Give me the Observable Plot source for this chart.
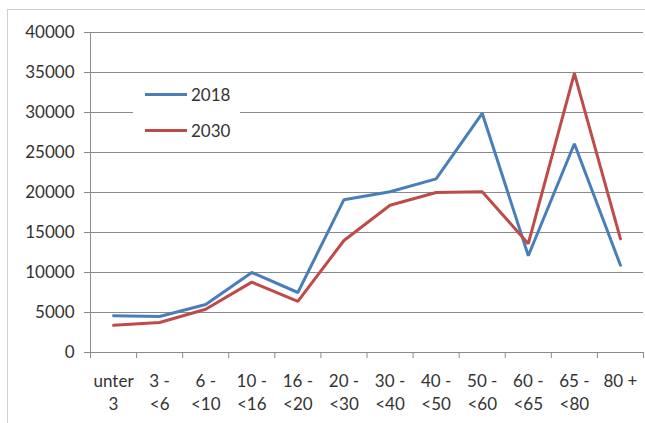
<!DOCTYPE html>
<html>
<head>
<meta charset="utf-8">
<script src="https://cdn.jsdelivr.net/npm/d3@7"></script>
<script src="https://cdn.jsdelivr.net/npm/@observablehq/plot@0.6"></script>
<style>
  html, body { margin: 0; padding: 0; background: #fff; }
  #wrap { position: relative; width: 645px; height: 423px; overflow: hidden; font-family: Lato, "Open Sans", sans-serif; }
  #frame { position: absolute; left: 7px; top: 9px; width: 700px; height: 500px; border: 1px solid #d0d0d0; }
  #legend { position: absolute; left: 133px; top: 80px; width: 107px; height: 66px; background: #fff; }
  .item { position: absolute; left: 12px; display: flex; align-items: center; font-size: 17px; color: #333; }
  .swatch { width: 42px; height: 3px; margin-right: 4px; }
</style>
</head>
<body>
<div id="wrap">
  <div id="frame"></div>
  <div id="chart"></div>
  <div id="legend"></div>
</div>
<script>
const categories = ["unter 3", "3 - <6", "6 - <10", "10 - <16", "16 - <20", "20 - <30", "30 - <40", "40 - <50", "50 - <60", "60 - <65", "65 - <80", "80 +"];
const tickLabels = ["unter\n3", "3 -\n<6", "6 -\n<10", "10 -\n<16", "16 -\n<20", "20 -\n<30", "30 -\n<40", "40 -\n<50", "50 -\n<60", "60 -\n<65", "65 -\n<80", "80 +"];
const values2018 = [4600, 4500, 6000, 10000, 7500, 19100, 20100, 21700, 29900, 12100, 26100, 10900];
const values2030 = [3400, 3750, 5400, 8800, 6400, 14000, 18400, 20000, 20100, 13600, 34900, 14200];
const yTicks = [0, 5000, 10000, 15000, 20000, 25000, 30000, 35000, 40000];
const seriesNames = ["2018", "2030"];
const colors = ["#4A7EBB", "#BE4B48"];

const rows = [];
[values2018, values2030].forEach((vals, s) => {
  vals.forEach((v, i) => rows.push({series: seriesNames[s], i: i + 0.5, cat: categories[i], value: v}));
});

const fs = 17;
const chart = Plot.plot({
  width: 645,
  height: 423,
  marginLeft: 90,
  marginRight: 2,
  marginTop: 32,
  marginBottom: 71,
  style: {fontFamily: "Lato, 'Open Sans', sans-serif", fontSize: fs + "px", color: "#333", background: "transparent"},
  x: {type: "linear", domain: [0, categories.length], axis: null},
  y: {domain: [0, 40000], axis: null},
  color: {domain: seriesNames, range: colors},
  marks: [
    Plot.ruleY(yTicks, {stroke: "#8a8a8a", strokeWidth: 1}),
    Plot.ruleX([0], {stroke: "#8a8a8a"}),
    Plot.axisY({ticks: yTicks, tickSize: 6, tickPadding: 10, tickFormat: d => String(d), stroke: "#8a8a8a", fontSize: fs, fill: "#333", label: null}),
    Plot.axisX({ticks: d3.range(categories.length + 1), tickSize: 6, tickFormat: () => "", stroke: "#8a8a8a", label: null}),
    Plot.axisX({ticks: categories.map((c, i) => i + 0.5), tickSize: 0, tickPadding: 18, tickFormat: (d) => tickLabels[Math.floor(d)], lineHeight: 1.35, fontSize: fs, fill: "#333", label: null}),
    Plot.line(rows, {x: "i", y: "value", z: "series", stroke: "series", strokeWidth: 3, strokeLinejoin: "miter"})
  ]
});
document.getElementById("chart").appendChild(chart);

const legend = document.getElementById("legend");
seriesNames.forEach((name, k) => {
  const item = document.createElement("div");
  item.className = "item";
  item.style.top = (k === 0 ? 4 : 40) + "px";
  const sw = document.createElement("div");
  sw.className = "swatch";
  sw.style.background = colors[k];
  const t = document.createElement("span");
  t.textContent = name;
  item.appendChild(sw);
  item.appendChild(t);
  legend.appendChild(item);
});
</script>
</body>
</html>
